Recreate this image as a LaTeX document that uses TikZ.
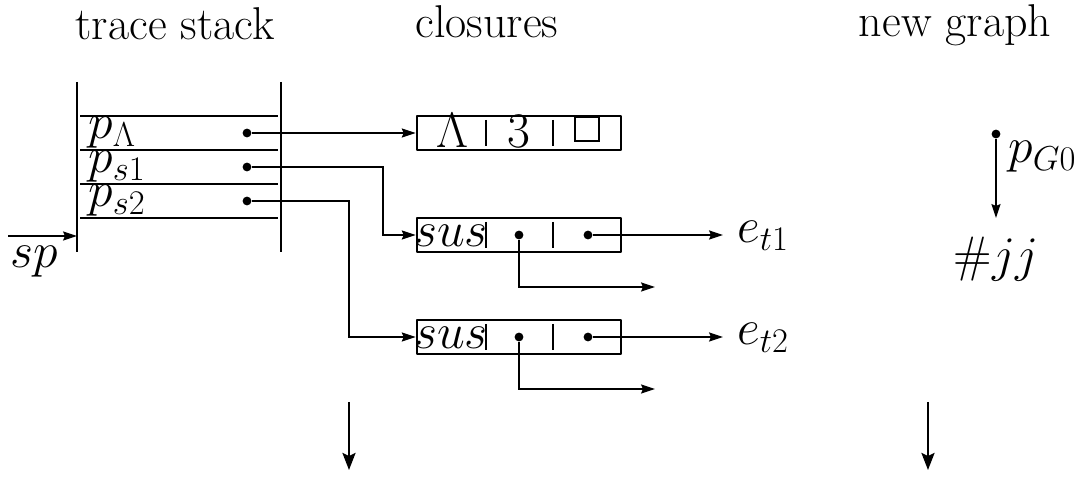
\documentclass[tikz,border=0pt]{standalone}
\usepackage{amsmath}
\usetikzlibrary{arrows.meta,positioning,calc}

\begin{document}
\begin{tikzpicture}[x=0.5pt, y=-0.5pt,
		every node/.style={font=\fontsize{23}{28}\selectfont, inner sep=0pt},
		closure/.style={draw, line width=1.3pt, line join=round, minimum width=102pt, minimum height=17pt},
		ptr/.style={circle, fill, minimum size=4.4pt},
		sep/.style={line width=0.6pt},
		link/.style={line width=0.6pt, -{Stealth[length=7pt, width=4.6pt, inset=1pt]}},
		flow/.style={line width=1.2pt, -{Stealth[length=8.5pt, width=6.5pt, inset=1.5pt]}}]
		\useasboundingbox (0,0) rectangle (1084,480);
		
		% Column headings
		\node[anchor=base] (tshead) at (175,40) {trace stack};
		\node[anchor=base] (clhead) at (487,38) {closures};
		\node[anchor=base] (nghead) at (955,37) {new graph};
		
		% Draw the trace stack
		\draw[line width=1.3pt] (77,82) -- (77,252);
		\draw[line width=1.3pt] (281,82) -- (281,252);
		\foreach \y in {116,150,184,218}
			\draw[sep] (80,\y) -- (278,\y);
		\node[anchor=base west] (plab) at (88,139) {$p_\Lambda$};
		\node[anchor=base west] (psalab) at (88,173) {$p_{s1}$};
		\node[anchor=base west] (psblab) at (88,207) {$p_{s2}$};
		\node[ptr] (pl) at (247,133) {};
		\node[ptr] (psa) at (247,167) {};
		\node[ptr] (psb) at (247,201) {};
		
		% Stack pointer
		\coordinate (spin) at (8,236);
		\coordinate (spat) at (77,236);
		\draw[link] (spin) -- (spat);
		\node[anchor=base west] (sp) at (10,268) {$sp$};
		
		% Draw the closures
		\node[closure] (clam) at (519,133) {};
		\node[closure] (csa) at (519,235) {};
		\node[closure] (csb) at (519,337) {};
		\foreach \c in {clam,csa,csb} {
			\draw[sep] (\c.center) ++(-33,-13) -- ++(0,26);
			\draw[sep] (\c.center) ++(34,-13) -- ++(0,26);
		}
		\node[anchor=base] (lam) at (452,148) {$\Lambda$};
		\node[anchor=base] (ar) at (519,148) {$3$};
		\node[draw, line width=0.8pt, minimum size=12pt, anchor=north] (nil) at (587,116) {};
		\node[anchor=base] (susa) at (451,247) {$sus$};
		\node[anchor=base] (susb) at (451,349) {$sus$};
		\node[ptr] (sa1) at (519,235) {};
		\node[ptr] (sa2) at (588,235) {};
		\node[ptr] (sb1) at (519,337) {};
		\node[ptr] (sb2) at (588,337) {};
		
		% Connect the stack entries to the closures
		\draw[link] (pl) -- (clam);
		\draw[link] (psa) -- ++(136,0) |- (csa);
		\draw[link] (psb) -- ++(102,0) |- (csb);
		
		% Suspension fields
		\node[anchor=base west] (eta) at (737,243) {$e_{t1}$};
		\node[anchor=base west] (etb) at (737,345) {$e_{t2}$};
		\draw[link] (sa2) -- ($(sa2 -| eta.west)+(-14,0)$);
		\draw[link] (sb2) -- ($(sb2 -| etb.west)+(-14,0)$);
		\coordinate (fa) at (655,287);
		\coordinate (fb) at (655,389);
		\draw[link] (sa1) |- (fa);
		\draw[link] (sb1) |- (fb);
		
		% Draw the new graph
		\node[ptr] (pg) at (996,134) {};
		\node[anchor=base west] (pglab) at (1008,163) {$p_{G0}$};
		\node[anchor=north] (jj) at (996,237) {$\#jj$};
		\draw[link] (pg) -- ($(jj.north)+(0,-19)$);
		
		% Downward arrows below the columns
		\coordinate (clfrom) at (349,402);
		\coordinate (clto) at (349,470);
		\coordinate (ngfrom) at (928,402);
		\coordinate (ngto) at (928,470);
		\draw[flow] (clfrom) -- (clto);
		\draw[flow] (ngfrom) -- (ngto);
\end{tikzpicture}
\end{document}
